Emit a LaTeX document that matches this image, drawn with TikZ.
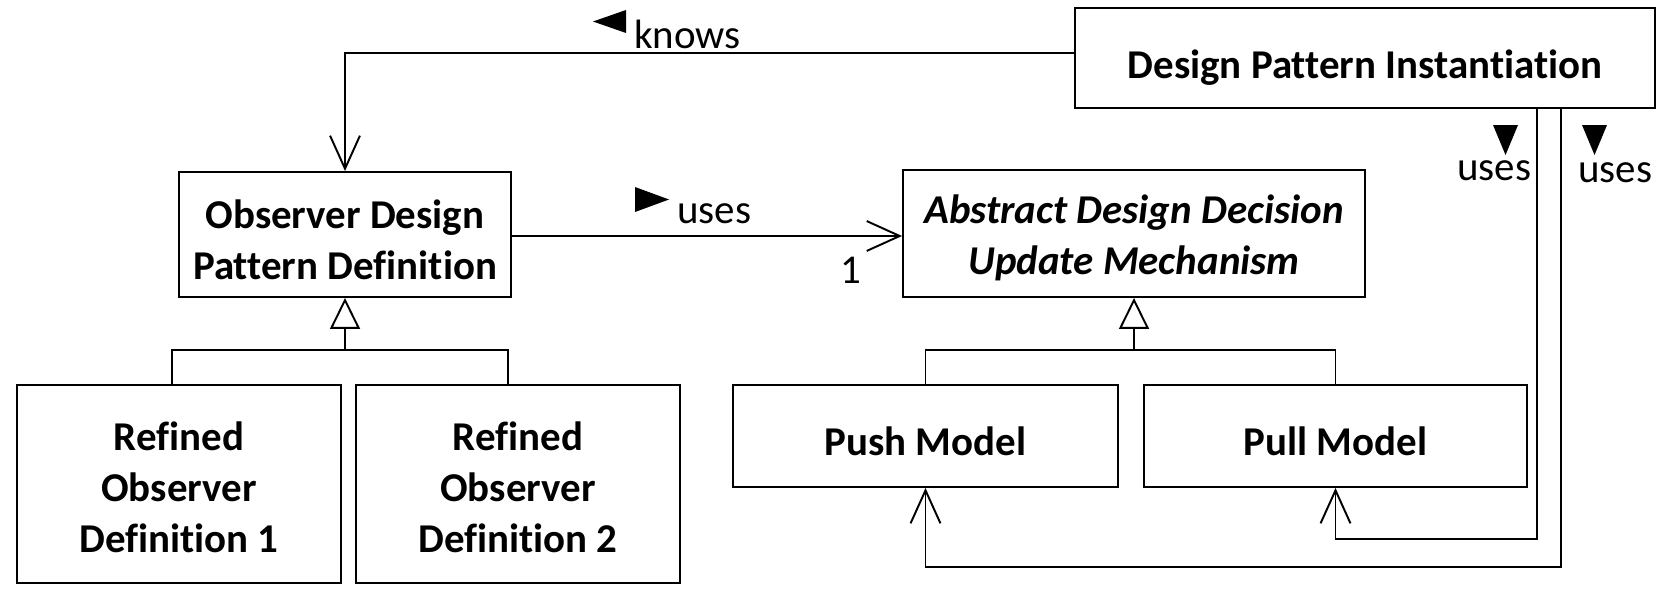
\documentclass[tikz,border=0pt]{standalone}
\usepackage{fontspec}
\setmainfont{Carlito}[Ligatures=NoCommon]
\usetikzlibrary{arrows.meta}
\begin{document}
\begin{tikzpicture}[x=0.02cm,y=-0.02cm,
  box/.style={draw, line width=1.1pt, inner sep=0pt},
  txt/.style={inner sep=0pt, align=center, font=\bfseries\fontsize{23.3}{29}\selectfont},
  itxt/.style={txt, font=\bfseries\itshape\fontsize{23.3}{29}\selectfont},
  sz/.style 2 args={minimum width={#1*0.56905pt}, minimum height={#2*0.56905pt}},
  conn/.style={line width=1.1pt},
  dep/.style={conn, -{Straight Barb[length=18.8pt,width=17pt,line width=1.1pt]}},
  gen/.style={conn, -{Triangle[open,length=17.6pt,width=17pt,fill=white,line width=1.1pt]}},
  lbl/.style={inner sep=0pt, anchor=base west, font=\fontsize{23.3}{29}\selectfont}
]
\useasboundingbox (0,0) rectangle (1665,595);

% boxes
\node[box, sz={580}{100}] (dpi) at (1365,58) {};
\node[box, sz={332}{125}] (odp) at (345,234.5) {};
\node[box, sz={462}{127}] (add) at (1134,233.5) {};
\node[box, sz={324}{198}] (r1) at (179,484) {};
\node[box, sz={324}{198}] (r2) at (518,484) {};
\node[box, sz={385}{102}] (push) at (925.5,436) {};
\node[box, sz={383}{102}] (pull) at (1335.5,436) {};

% box texts
\node[txt] (dpit) at ([yshift=-5.5pt]dpi.center) {Design Pattern Instantiation};
\node[txt] (odpt) at ([yshift=-2.8pt]odp.center) {Observer Design\\Pattern Definition};
\node[itxt] (addt) at ([yshift=-2.3pt]add.center) {Abstract Design Decision\\Update Mechanism};
\node[txt] (r1t) at ([yshift=-2pt]r1.center) {Refined\\Observer\\Definition 1};
\node[txt] (r2t) at ([yshift=-2pt]r2.center) {Refined\\Observer\\Definition 2};
\node[txt] (pusht) at ([yshift=-2.8pt]push.center) {Push Model};
\node[txt] (pullt) at ([yshift=-2.8pt]pull.center) {Pull Model};

% helper coordinates
\coordinate (kn) at (0,53);
\coordinate (uy) at (0,236);
\coordinate (g1) at (0,350);
\coordinate (l1) at (172,0);
\coordinate (l2) at (508,0);
\coordinate (ua) at (1537,0);
\coordinate (ub) at (1561,0);
\coordinate (ya) at (0,539);
\coordinate (yb) at (0,567);

% connectors
\draw[dep] (kn -| dpi.west) -| (odp.north);
\draw[dep] (uy -| odp.east) -- (uy -| add.west);
\draw[gen] (g1 -| odp.south) -- (odp.south);
\draw[conn] (l1 |- r1.north) |- (g1 -| odp.south) -| (l2 |- r2.north);
\draw[gen] (g1 -| add.south) -- (add.south);
\draw[conn] (push.north) |- (g1 -| add.south) -| (pull.north);
\draw[dep] (ua |- dpi.south) -- (ua |- ya) -| (pull.south);
\draw[dep] (ub |- dpi.south) -- (ub |- yb) -| (push.south);

% labels
\fill (626,10) -- (593,21.5) -- (626,33) -- cycle;
\node[lbl] (kl) at (634,48) {knows};
\fill (635,187) -- (669,199.5) -- (635,212) -- cycle;
\node[lbl] (ul) at (677,223) {uses};
\node[lbl] (one) at (840,283) {1};
\fill (1493,125) -- (1518,125) -- (1505.5,155) -- cycle;
\node[lbl] (u1) at (1457,180) {uses};
\fill (1582,125) -- (1607,125) -- (1594.5,155) -- cycle;
\node[lbl] (u2) at (1578,182) {uses};
\end{tikzpicture}
\end{document}
